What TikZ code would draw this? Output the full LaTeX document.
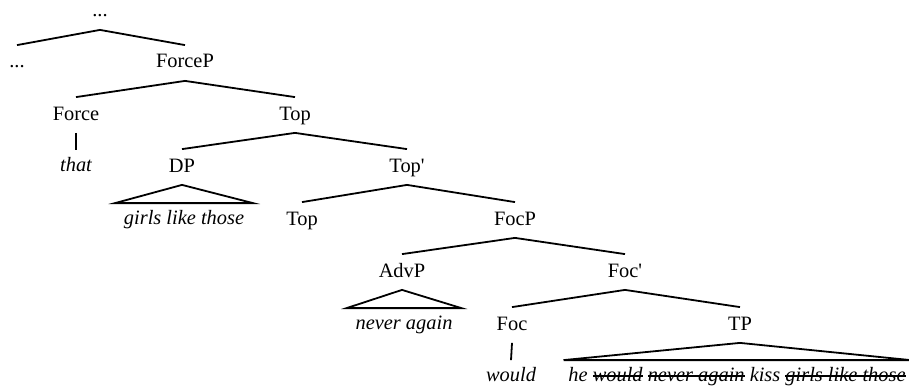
\documentclass[tikz,border=0pt]{standalone}
\usepackage{fontspec}
\setmainfont{Liberation Serif}
\newcommand{\strk}[1]{\setbox0\hbox{#1}\rlap{\rule[2.2pt]{\wd0}{0.6pt}}\box0\relax}

\begin{document}
\begin{tikzpicture}[x=0.5pt,y=-0.5pt,line width=.9pt,font=\fontsize{10.2}{12}\selectfont,
  cat/.style={anchor=base,inner xsep=1pt,inner ysep=1pt,text height=10pt,text depth=5pt},
  lf/.style={anchor=base,inner xsep=4pt,inner ysep=1pt,text height=9pt,text depth=3pt,font=\fontsize{10.2}{12}\selectfont\itshape}]
\useasboundingbox (0,0) rectangle (909,390);
\node[cat] (topdots) at (100,17) {...};
\node[cat] (ldots) at (17,68) {...};
\node[cat] (ForceP) at (185,68) {ForceP};
\node[cat] (Force) at (76,120) {Force};
\node[cat] (Top) at (295,120) {Top};
\node[lf] (that) at (76,171) {that};
\node[cat] (DP) at (182,172) {DP};
\node[cat] (Topbar) at (407,172) {Top\textquotesingle};
\node[lf] (girls) at (184,224) {girls like those};
\node[cat] (Tophead) at (302,225) {Top};
\node[cat] (FocP) at (515,225) {FocP};
\node[cat] (AdvP) at (402,277) {AdvP};
\node[cat] (Focbar) at (625,277) {Foc\textquotesingle};
\node[lf] (never) at (404,329) {never again};
\node[cat] (Foc) at (512,330) {Foc};
\node[cat] (TP) at (740,330) {TP};
\node[lf] (would) at (511,381) {would};
\node[lf,inner xsep=2pt] (TPtext) at (737,381) {he \strk{would} \strk{never again} kiss \strk{girls like those}};
\draw (ldots.north)--(topdots.south)--(ForceP.north);
\draw (Force.north)--(ForceP.south)--(Top.north);
\draw (Force.south)--(that.north);
\draw (DP.north)--(Top.south)--(Topbar.north);
\draw (DP.south)--(girls.north west)--(girls.north east)--cycle;
\draw (Tophead.north)--(Topbar.south)--(FocP.north);
\draw (AdvP.north)--(FocP.south)--(Focbar.north);
\draw (AdvP.south)--(never.north west)--(never.north east)--cycle;
\draw (Foc.north)--(Focbar.south)--(TP.north);
\draw (Foc.south)--(would.north);
\draw (TP.south)--(TPtext.north west)--(TPtext.north east)--cycle;
\end{tikzpicture}
\end{document}
